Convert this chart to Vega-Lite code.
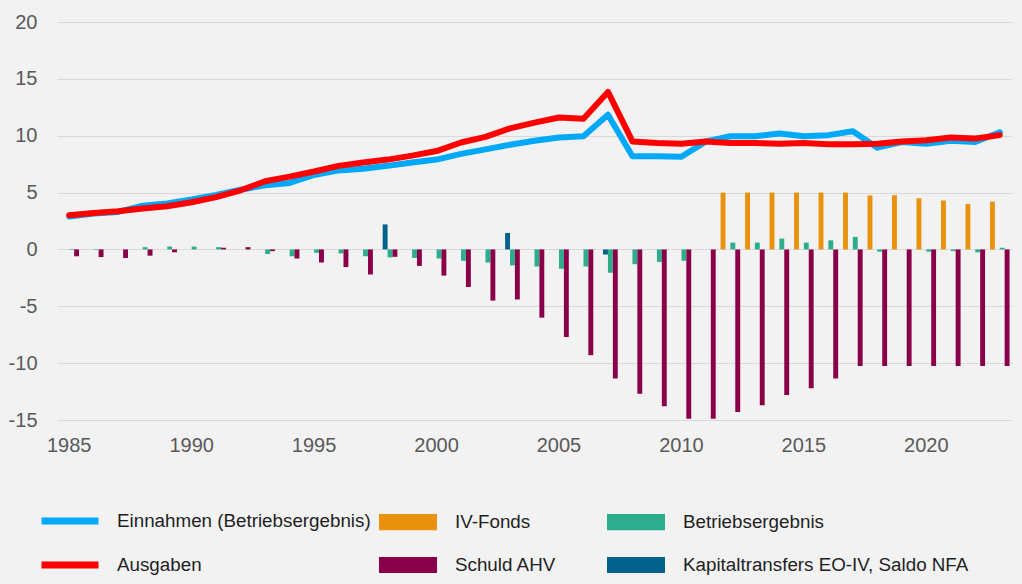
{
  "$schema": "https://vega.github.io/schema/vega-lite/v6.json",
  "width": 955,
  "height": 398,
  "autosize": {"type": "none"},
  "padding": {"left": 57, "top": 22, "right": 10, "bottom": 164},
  "background": "#F2F2F2",
  "config": {
    "view": {"stroke": null},
    "font": "Liberation Sans",
    "axis": {
      "labelFont": "Liberation Sans",
      "labelFontSize": 20,
      "labelColor": "#595959",
      "domain": false,
      "ticks": false,
      "tickSize": 0,
      "title": null,
      "gridColor": "#D9D9D9",
      "gridWidth": 1
    },
    "legend": {
      "labelFont": "Liberation Sans",
      "labelFontSize": 18.8,
      "labelColor": "#1F1F1F",
      "labelOffset": 18,
      "labelLimit": 400,
      "padding": 0,
      "title": null
    }
  },
  "datasets": {
    "lines": [
      {"year": 1985, "series": "Einnahmen (Betriebsergebnis)", "value": 2.9},
      {"year": 1986, "series": "Einnahmen (Betriebsergebnis)", "value": 3.15},
      {"year": 1987, "series": "Einnahmen (Betriebsergebnis)", "value": 3.3},
      {"year": 1988, "series": "Einnahmen (Betriebsergebnis)", "value": 3.85},
      {"year": 1989, "series": "Einnahmen (Betriebsergebnis)", "value": 4.05},
      {"year": 1990, "series": "Einnahmen (Betriebsergebnis)", "value": 4.4},
      {"year": 1991, "series": "Einnahmen (Betriebsergebnis)", "value": 4.8},
      {"year": 1992, "series": "Einnahmen (Betriebsergebnis)", "value": 5.25},
      {"year": 1993, "series": "Einnahmen (Betriebsergebnis)", "value": 5.65},
      {"year": 1994, "series": "Einnahmen (Betriebsergebnis)", "value": 5.85},
      {"year": 1995, "series": "Einnahmen (Betriebsergebnis)", "value": 6.55},
      {"year": 1996, "series": "Einnahmen (Betriebsergebnis)", "value": 6.95},
      {"year": 1997, "series": "Einnahmen (Betriebsergebnis)", "value": 7.1},
      {"year": 1998, "series": "Einnahmen (Betriebsergebnis)", "value": 7.35},
      {"year": 1999, "series": "Einnahmen (Betriebsergebnis)", "value": 7.65},
      {"year": 2000, "series": "Einnahmen (Betriebsergebnis)", "value": 7.9},
      {"year": 2001, "series": "Einnahmen (Betriebsergebnis)", "value": 8.4},
      {"year": 2002, "series": "Einnahmen (Betriebsergebnis)", "value": 8.8},
      {"year": 2003, "series": "Einnahmen (Betriebsergebnis)", "value": 9.2},
      {"year": 2004, "series": "Einnahmen (Betriebsergebnis)", "value": 9.55},
      {"year": 2005, "series": "Einnahmen (Betriebsergebnis)", "value": 9.85},
      {"year": 2006, "series": "Einnahmen (Betriebsergebnis)", "value": 9.95},
      {"year": 2007, "series": "Einnahmen (Betriebsergebnis)", "value": 11.85},
      {"year": 2008, "series": "Einnahmen (Betriebsergebnis)", "value": 8.2},
      {"year": 2009, "series": "Einnahmen (Betriebsergebnis)", "value": 8.2},
      {"year": 2010, "series": "Einnahmen (Betriebsergebnis)", "value": 8.15},
      {"year": 2011, "series": "Einnahmen (Betriebsergebnis)", "value": 9.5},
      {"year": 2012, "series": "Einnahmen (Betriebsergebnis)", "value": 9.95},
      {"year": 2013, "series": "Einnahmen (Betriebsergebnis)", "value": 9.95},
      {"year": 2014, "series": "Einnahmen (Betriebsergebnis)", "value": 10.2},
      {"year": 2015, "series": "Einnahmen (Betriebsergebnis)", "value": 9.95},
      {"year": 2016, "series": "Einnahmen (Betriebsergebnis)", "value": 10.05},
      {"year": 2017, "series": "Einnahmen (Betriebsergebnis)", "value": 10.4},
      {"year": 2018, "series": "Einnahmen (Betriebsergebnis)", "value": 8.95},
      {"year": 2019, "series": "Einnahmen (Betriebsergebnis)", "value": 9.45},
      {"year": 2020, "series": "Einnahmen (Betriebsergebnis)", "value": 9.3},
      {"year": 2021, "series": "Einnahmen (Betriebsergebnis)", "value": 9.55},
      {"year": 2022, "series": "Einnahmen (Betriebsergebnis)", "value": 9.45},
      {"year": 2023, "series": "Einnahmen (Betriebsergebnis)", "value": 10.3},
      {"year": 1985, "series": "Ausgaben", "value": 3.0},
      {"year": 1986, "series": "Ausgaben", "value": 3.2},
      {"year": 1987, "series": "Ausgaben", "value": 3.35},
      {"year": 1988, "series": "Ausgaben", "value": 3.6},
      {"year": 1989, "series": "Ausgaben", "value": 3.8},
      {"year": 1990, "series": "Ausgaben", "value": 4.15},
      {"year": 1991, "series": "Ausgaben", "value": 4.6},
      {"year": 1992, "series": "Ausgaben", "value": 5.2},
      {"year": 1993, "series": "Ausgaben", "value": 6.0},
      {"year": 1994, "series": "Ausgaben", "value": 6.4},
      {"year": 1995, "series": "Ausgaben", "value": 6.85},
      {"year": 1996, "series": "Ausgaben", "value": 7.35},
      {"year": 1997, "series": "Ausgaben", "value": 7.65},
      {"year": 1998, "series": "Ausgaben", "value": 7.9},
      {"year": 1999, "series": "Ausgaben", "value": 8.25},
      {"year": 2000, "series": "Ausgaben", "value": 8.65},
      {"year": 2001, "series": "Ausgaben", "value": 9.4},
      {"year": 2002, "series": "Ausgaben", "value": 9.9},
      {"year": 2003, "series": "Ausgaben", "value": 10.65},
      {"year": 2004, "series": "Ausgaben", "value": 11.15},
      {"year": 2005, "series": "Ausgaben", "value": 11.6},
      {"year": 2006, "series": "Ausgaben", "value": 11.5},
      {"year": 2007, "series": "Ausgaben", "value": 13.85},
      {"year": 2008, "series": "Ausgaben", "value": 9.5},
      {"year": 2009, "series": "Ausgaben", "value": 9.35},
      {"year": 2010, "series": "Ausgaben", "value": 9.3},
      {"year": 2011, "series": "Ausgaben", "value": 9.5},
      {"year": 2012, "series": "Ausgaben", "value": 9.35},
      {"year": 2013, "series": "Ausgaben", "value": 9.35},
      {"year": 2014, "series": "Ausgaben", "value": 9.3},
      {"year": 2015, "series": "Ausgaben", "value": 9.35},
      {"year": 2016, "series": "Ausgaben", "value": 9.25},
      {"year": 2017, "series": "Ausgaben", "value": 9.25},
      {"year": 2018, "series": "Ausgaben", "value": 9.3},
      {"year": 2019, "series": "Ausgaben", "value": 9.5},
      {"year": 2020, "series": "Ausgaben", "value": 9.6},
      {"year": 2021, "series": "Ausgaben", "value": 9.85},
      {"year": 2022, "series": "Ausgaben", "value": 9.75},
      {"year": 2023, "series": "Ausgaben", "value": 10.05}
    ],
    "bars": [
      {"year": 2012, "series": "IV-Fonds", "value": 5.0},
      {"year": 2013, "series": "IV-Fonds", "value": 5.0},
      {"year": 2014, "series": "IV-Fonds", "value": 5.0},
      {"year": 2015, "series": "IV-Fonds", "value": 5.0},
      {"year": 2016, "series": "IV-Fonds", "value": 5.0},
      {"year": 2017, "series": "IV-Fonds", "value": 5.0},
      {"year": 2018, "series": "IV-Fonds", "value": 4.75},
      {"year": 2019, "series": "IV-Fonds", "value": 4.77},
      {"year": 2020, "series": "IV-Fonds", "value": 4.5},
      {"year": 2021, "series": "IV-Fonds", "value": 4.3},
      {"year": 2022, "series": "IV-Fonds", "value": 4.0},
      {"year": 2023, "series": "IV-Fonds", "value": 4.2},
      {"year": 1998, "series": "Kapitaltransfers EO-IV, Saldo NFA", "value": 2.2},
      {"year": 2003, "series": "Kapitaltransfers EO-IV, Saldo NFA", "value": 1.45},
      {"year": 2007, "series": "Kapitaltransfers EO-IV, Saldo NFA", "value": -0.45},
      {"year": 1985, "series": "Betriebsergebnis", "value": -0.05},
      {"year": 1986, "series": "Betriebsergebnis", "value": -0.05},
      {"year": 1988, "series": "Betriebsergebnis", "value": 0.2},
      {"year": 1989, "series": "Betriebsergebnis", "value": 0.25},
      {"year": 1990, "series": "Betriebsergebnis", "value": 0.25},
      {"year": 1991, "series": "Betriebsergebnis", "value": 0.2},
      {"year": 1993, "series": "Betriebsergebnis", "value": -0.4},
      {"year": 1994, "series": "Betriebsergebnis", "value": -0.6},
      {"year": 1995, "series": "Betriebsergebnis", "value": -0.3},
      {"year": 1996, "series": "Betriebsergebnis", "value": -0.35},
      {"year": 1997, "series": "Betriebsergebnis", "value": -0.6},
      {"year": 1998, "series": "Betriebsergebnis", "value": -0.7},
      {"year": 1999, "series": "Betriebsergebnis", "value": -0.75},
      {"year": 2000, "series": "Betriebsergebnis", "value": -0.8},
      {"year": 2001, "series": "Betriebsergebnis", "value": -1.0},
      {"year": 2002, "series": "Betriebsergebnis", "value": -1.15},
      {"year": 2003, "series": "Betriebsergebnis", "value": -1.4},
      {"year": 2004, "series": "Betriebsergebnis", "value": -1.5},
      {"year": 2005, "series": "Betriebsergebnis", "value": -1.7},
      {"year": 2006, "series": "Betriebsergebnis", "value": -1.5},
      {"year": 2007, "series": "Betriebsergebnis", "value": -2.05},
      {"year": 2008, "series": "Betriebsergebnis", "value": -1.3},
      {"year": 2009, "series": "Betriebsergebnis", "value": -1.1},
      {"year": 2010, "series": "Betriebsergebnis", "value": -1.0},
      {"year": 2012, "series": "Betriebsergebnis", "value": 0.6},
      {"year": 2013, "series": "Betriebsergebnis", "value": 0.6},
      {"year": 2014, "series": "Betriebsergebnis", "value": 0.95},
      {"year": 2015, "series": "Betriebsergebnis", "value": 0.6},
      {"year": 2016, "series": "Betriebsergebnis", "value": 0.8},
      {"year": 2017, "series": "Betriebsergebnis", "value": 1.1},
      {"year": 2018, "series": "Betriebsergebnis", "value": -0.2},
      {"year": 2020, "series": "Betriebsergebnis", "value": -0.2},
      {"year": 2021, "series": "Betriebsergebnis", "value": -0.15},
      {"year": 2022, "series": "Betriebsergebnis", "value": -0.25},
      {"year": 2023, "series": "Betriebsergebnis", "value": 0.15},
      {"year": 1985, "series": "Schuld AHV", "value": -0.6},
      {"year": 1986, "series": "Schuld AHV", "value": -0.67},
      {"year": 1987, "series": "Schuld AHV", "value": -0.75},
      {"year": 1988, "series": "Schuld AHV", "value": -0.55},
      {"year": 1989, "series": "Schuld AHV", "value": -0.25},
      {"year": 1991, "series": "Schuld AHV", "value": 0.15},
      {"year": 1992, "series": "Schuld AHV", "value": 0.2},
      {"year": 1993, "series": "Schuld AHV", "value": -0.15},
      {"year": 1994, "series": "Schuld AHV", "value": -0.8},
      {"year": 1995, "series": "Schuld AHV", "value": -1.15},
      {"year": 1996, "series": "Schuld AHV", "value": -1.55},
      {"year": 1997, "series": "Schuld AHV", "value": -2.2},
      {"year": 1998, "series": "Schuld AHV", "value": -0.65},
      {"year": 1999, "series": "Schuld AHV", "value": -1.45},
      {"year": 2000, "series": "Schuld AHV", "value": -2.3},
      {"year": 2001, "series": "Schuld AHV", "value": -3.3},
      {"year": 2002, "series": "Schuld AHV", "value": -4.5},
      {"year": 2003, "series": "Schuld AHV", "value": -4.4},
      {"year": 2004, "series": "Schuld AHV", "value": -6.0},
      {"year": 2005, "series": "Schuld AHV", "value": -7.7},
      {"year": 2006, "series": "Schuld AHV", "value": -9.3},
      {"year": 2007, "series": "Schuld AHV", "value": -11.35},
      {"year": 2008, "series": "Schuld AHV", "value": -12.7},
      {"year": 2009, "series": "Schuld AHV", "value": -13.8},
      {"year": 2010, "series": "Schuld AHV", "value": -14.9},
      {"year": 2011, "series": "Schuld AHV", "value": -14.9},
      {"year": 2012, "series": "Schuld AHV", "value": -14.3},
      {"year": 2013, "series": "Schuld AHV", "value": -13.7},
      {"year": 2014, "series": "Schuld AHV", "value": -12.8},
      {"year": 2015, "series": "Schuld AHV", "value": -12.2},
      {"year": 2016, "series": "Schuld AHV", "value": -11.35},
      {"year": 2017, "series": "Schuld AHV", "value": -10.25},
      {"year": 2018, "series": "Schuld AHV", "value": -10.25},
      {"year": 2019, "series": "Schuld AHV", "value": -10.25},
      {"year": 2020, "series": "Schuld AHV", "value": -10.25},
      {"year": 2021, "series": "Schuld AHV", "value": -10.25},
      {"year": 2022, "series": "Schuld AHV", "value": -10.25},
      {"year": 2023, "series": "Schuld AHV", "value": -10.25}
    ]
  },
  "encoding": {
    "x": {
      "field": "year",
      "type": "ordinal",
      "scale": {"paddingInner": 0.2, "paddingOuter": 0.1},
      "axis": {
        "values": [1985, 1990, 1995, 2000, 2005, 2010, 2015, 2020],
        "labelAngle": 0,
        "labelPadding": 15,
        "grid": false
      }
    },
    "y": {
      "field": "value",
      "type": "quantitative",
      "scale": {"domain": [-15, 20], "nice": false, "zero": false},
      "axis": {
        "values": [-15, -10, -5, 0, 5, 10, 15, 20],
        "labelExpr": "datum.value + ''",
        "labelPadding": 20,
        "grid": true
      }
    }
  },
  "layer": [
    {
      "data": {"name": "bars"},
      "mark": {"type": "bar"},
      "encoding": {
        "xOffset": {
          "field": "series",
          "type": "nominal",
          "scale": {
            "domain": ["IV-Fonds", "Kapitaltransfers EO-IV, Saldo NFA", "Betriebsergebnis", "Schuld AHV"],
            "paddingInner": 0,
            "paddingOuter": 0
          }
        },
        "fill": {
          "field": "series",
          "type": "nominal",
          "scale": {
            "domain": ["IV-Fonds", "Schuld AHV", "Betriebsergebnis", "Kapitaltransfers EO-IV, Saldo NFA"],
            "range": ["#E8920E", "#8A0048", "#2EAD8D", "#00628C"]
          },
          "legend": {
            "orient": "none",
            "legendX": 322,
            "legendY": 471,
            "columns": 2,
            "columnPadding": 50,
            "rowPadding": 4,
            "symbolType": "M-1,-0.28H1V0.28H-1Z",
            "symbolSize": 3364,
            "symbolStrokeWidth": 0
          }
        }
      }
    },
    {
      "data": {"name": "lines"},
      "mark": {"type": "line", "strokeWidth": 6, "strokeJoin": "round", "strokeCap": "round"},
      "encoding": {
        "stroke": {
          "field": "series",
          "type": "nominal",
          "sort": null,
          "scale": {
            "domain": ["Einnahmen (Betriebsergebnis)", "Ausgaben"],
            "range": ["#00A8F8", "#FF0000"]
          },
          "legend": {
            "orient": "none",
            "legendX": -5,
            "legendY": 481,
            "direction": "vertical",
            "rowPadding": 12,
            "labelOffset": 29,
            "symbolType": "M-2,0H2",
            "symbolSize": 812,
            "symbolStrokeWidth": 7
          }
        }
      }
    }
  ]
}
